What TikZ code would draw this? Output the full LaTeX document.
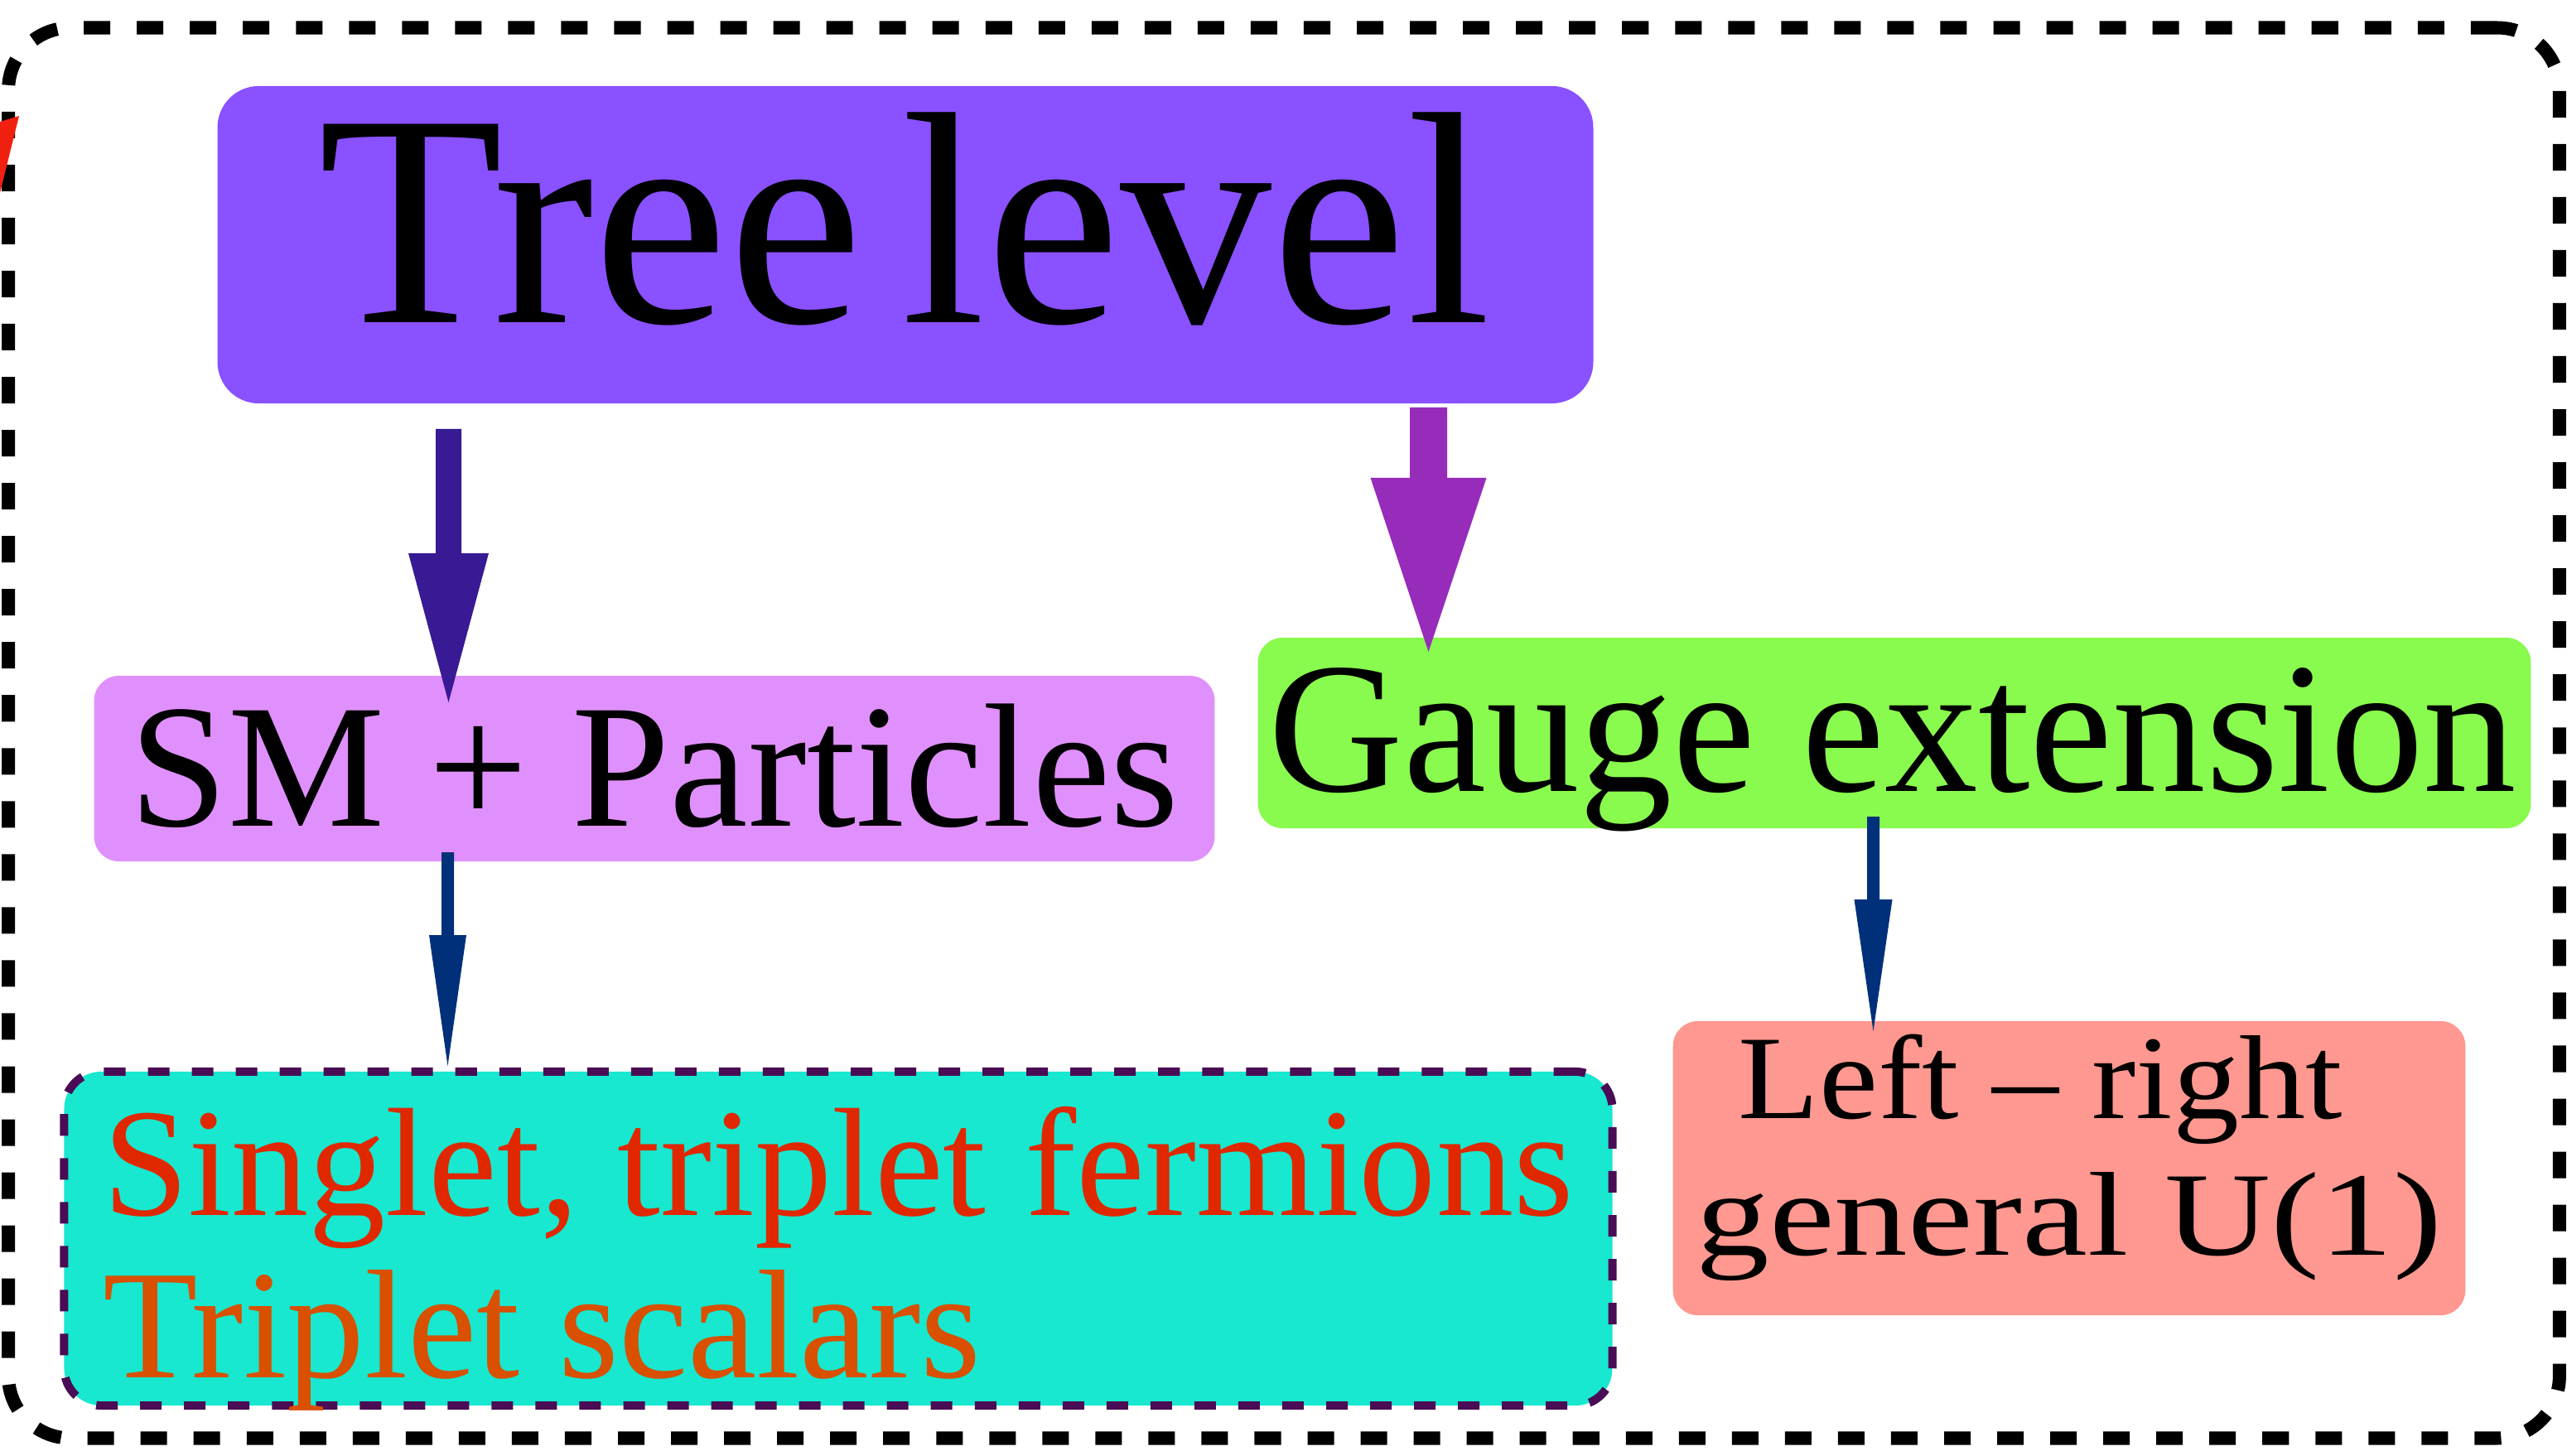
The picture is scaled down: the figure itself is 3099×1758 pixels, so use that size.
\documentclass[tikz,border=0pt]{standalone}
\usepackage{fontspec}
\setmainfont{Liberation Serif}
\usetikzlibrary{calc}
\definecolor{treecol}{RGB}{137,81,255}
\definecolor{smcol}{RGB}{224,144,252}
\definecolor{gaugecol}{RGB}{137,250,78}
\definecolor{singcol}{RGB}{23,232,207}
\definecolor{singborder}{RGB}{74,12,85}
\definecolor{lrcol}{RGB}{255,152,144}
\definecolor{arrA}{RGB}{56,26,148}
\definecolor{arrB}{RGB}{152,44,186}
\definecolor{arrC}{RGB}{0,48,122}
\definecolor{txtred}{RGB}{224,40,0}
\definecolor{txtorange}{RGB}{216,80,0}
\definecolor{fragred}{RGB}{240,32,16}
\tikzset{
  boxnode/.style={rectangle, inner sep=0pt, outer sep=0pt, draw=none},
  txt/.style={inner sep=0pt, outer sep=0pt, anchor=base},
}
\begin{document}
\begin{tikzpicture}[x=0.01cm, y=-0.01cm]
\useasboundingbox (0,0) rectangle (3099,1758);
% outer dashed frame
\node[boxnode, draw=black, line width=0.16cm, dash pattern=on 0.32cm off 0.32cm,
  rounded corners=0.75cm, minimum width=30.78cm, minimum height=17.02cm] (outer) at (1550,885) {};
% red fragment
\fill[fragred] (0,147) -- (23,140) -- (0,233) -- cycle;
% boxes
\node[boxnode, fill=treecol, rounded corners=0.5cm, minimum width=16.6cm, minimum height=3.83cm] (tree) at (1093,295.5) {};
\node[boxnode, fill=smcol, rounded corners=0.3cm, minimum width=13.52cm, minimum height=2.24cm] (sm) at (790,928) {};
\node[boxnode, fill=gaugecol, rounded corners=0.3cm, minimum width=15.36cm, minimum height=2.30cm] (gauge) at (2287,885) {};
\node[boxnode, fill=singcol, draw=singborder, line width=0.10cm, dash pattern=on 0.26cm off 0.27cm,
  rounded corners=0.45cm, minimum width=18.68cm, minimum height=4.03cm] (sing) at (1012,1495.5) {};
\node[boxnode, fill=lrcol, rounded corners=0.3cm, minimum width=9.56cm, minimum height=3.55cm] (lr) at (2498,1410.5) {};
% texts
\node[txt] (treet) at (1092,390) {\fontsize{104}{104}\selectfont Tree\hspace{0.13em}level};
\node[txt] (smt) at (790,997) {\fontsize{60.5}{60.5}\selectfont SM + Particles};
\node[txt] (gauget) at (2285,955) {\fontsize{64}{64}\selectfont Gauge extension};
\node[txt, anchor=base west, text=txtred] (sing1) at (124,1467) {\fontsize{53}{53}\selectfont Singlet, triplet fermions};
\node[txt, anchor=base west, text=txtorange] (sing2) at (124,1663) {\fontsize{53.3}{53.3}\selectfont Triplet scalars};
\node[txt, xscale=1.11] (lr1) at (2463,1350) {\fontsize{41}{41}\selectfont Left – right};
\node[txt, xscale=1.23] (lr2) at (2498,1515) {\fontsize{41}{41}\selectfont general U(1)};
% arrow coordinates
\coordinate (a1s) at (541.5,518);  \coordinate (a1e) at (541.5,848);
\coordinate (a2s) at (1724.5,492); \coordinate (a2e) at (1724.5,787);
\coordinate (a3s) at (540.5,1029); \coordinate (a3e) at (540.5,1287);
\coordinate (a4s) at (2261.5,986); \coordinate (a4e) at (2261.5,1245);
% block arrows
\fill[arrA] ($(a1s)+(-15.5,0)$) -- ($(a1s)+(15.5,0)$) -- ($(a1e)+(15.5,-180)$) -- ($(a1e)+(48.5,-180)$)
  -- (a1e) -- ($(a1e)+(-48.5,-180)$) -- ($(a1e)+(-15.5,-180)$) -- cycle;
\fill[arrB] ($(a2s)+(-22.5,0)$) -- ($(a2s)+(22.5,0)$) -- ($(a2e)+(22.5,-210)$) -- ($(a2e)+(70,-210)$)
  -- (a2e) -- ($(a2e)+(-70,-210)$) -- ($(a2e)+(-22.5,-210)$) -- cycle;
\fill[arrC] ($(a3s)+(-7.5,0)$) -- ($(a3s)+(7.5,0)$) -- ($(a3e)+(7.5,-158)$) -- ($(a3e)+(22.5,-158)$)
  -- (a3e) -- ($(a3e)+(-22.5,-158)$) -- ($(a3e)+(-7.5,-158)$) -- cycle;
\fill[arrC] ($(a4s)+(-7.5,0)$) -- ($(a4s)+(7.5,0)$) -- ($(a4e)+(7.5,-159)$) -- ($(a4e)+(23,-159)$)
  -- (a4e) -- ($(a4e)+(-23,-159)$) -- ($(a4e)+(-7.5,-159)$) -- cycle;
\end{tikzpicture}
\end{document}
